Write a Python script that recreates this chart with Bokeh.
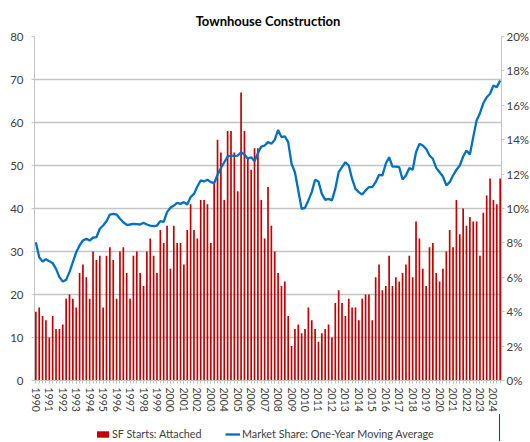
from bokeh.plotting import figure
from bokeh.layouts import column
from bokeh.models import (Range1d, LinearAxis, FixedTicker, PrintfTickFormatter,
                          Legend, LegendItem, ColumnDataSource)
from bokeh.embed import file_html
from bokeh.resources import INLINE

years = list(range(1990, 2025))

sf_starts_attached = [
    16, 17, 15, 14,  # 1990
    10, 15, 12, 12,  # 1991
    13, 19, 20, 19,  # 1992
    17, 25, 27, 24,  # 1993
    19, 30, 28, 29,  # 1994
    17, 29, 31, 28,  # 1995
    19, 30, 31, 25,  # 1996
    19, 29, 30, 25,  # 1997
    22, 30, 33, 29,  # 1998
    25, 35, 32, 36,  # 1999
    26, 36, 32, 32,  # 2000
    27, 35, 41, 35,  # 2001
    33, 42, 42, 41,  # 2002
    32, 46, 56, 53,  # 2003
    42, 58, 58, 53,  # 2004
    44, 67, 58, 52,  # 2005
    49, 54, 54, 42,  # 2006
    33, 45, 36, 30,  # 2007
    25, 22, 23, 15,  # 2008
    8, 12, 13, 11,   # 2009
    12, 17, 14, 12,  # 2010
    9, 11, 12, 13,   # 2011
    10, 18, 21, 18,  # 2012
    15, 19, 17, 17,  # 2013
    14, 19, 20, 20,  # 2014
    14, 24, 27, 21,  # 2015
    22, 29, 22, 24,  # 2016
    23, 25, 27, 29,  # 2017
    24, 37, 33, 26,  # 2018
    22, 31, 32, 25,  # 2019
    23, 26, 30, 35,  # 2020
    31, 42, 34, 40,  # 2021
    36, 38, 37, 37,  # 2022
    29, 39, 43, 47,  # 2023
    42, 41, 47,      # 2024
]

market_share_pct = [
    8.04, 7.17, 6.92, 7.05,
    6.94, 6.82, 6.49, 6.01,
    5.76, 5.85, 6.30, 6.88,
    7.46, 7.85, 8.14, 8.24,
    8.14, 8.30, 8.33, 8.82,
    9.01, 9.26, 9.65, 9.69,
    9.65, 9.40, 9.20, 9.05,
    9.07, 9.10, 9.09, 9.07,
    9.17, 9.07, 9.01, 8.97,
    9.01, 9.26, 9.22, 9.79,
    10.04, 10.17, 10.33, 10.27,
    10.37, 10.23, 10.66, 10.85,
    11.28, 11.63, 11.57, 11.67,
    11.53, 11.47, 11.96, 12.36,
    12.69, 13.02, 13.08, 13.06,
    13.08, 13.27, 13.14, 12.89,
    12.98, 12.75, 13.22, 13.60,
    13.66, 13.86, 13.76, 13.99,
    14.57, 14.15, 14.19, 13.86,
    12.60, 12.11, 11.05, 9.98,
    10.04, 10.47, 10.95, 11.67,
    11.57, 10.85, 10.50, 10.56,
    10.47, 11.14, 12.11, 12.40,
    12.69, 12.50, 11.72, 11.14,
    10.95, 10.81, 11.05, 11.24,
    11.24, 11.53, 11.96, 11.92,
    12.60, 12.98, 12.44, 12.44,
    12.40, 11.69, 11.92, 12.36,
    12.25, 13.27, 13.76, 13.66,
    13.47, 13.08, 12.89, 12.36,
    12.11, 11.86, 11.34, 11.53,
    11.92, 12.25, 12.50, 13.02,
    13.37, 13.14, 14.15, 15.12,
    15.54, 16.12, 16.47, 16.67,
    17.15, 17.05, 17.44,
]

series_labels = ["SF Starts: Attached", "Market Share: One-Year Moving Average"]
left_ticks = list(range(0, 81, 10))
right_ticks = list(range(0, 21, 2))

n = len(sf_starts_attached)
quarter_idx = list(range(n))
src = ColumnDataSource(dict(x=quarter_idx, starts=sf_starts_attached, share=market_share_pct))

FONT = "Lato"
TXT = "#404040"
GRID = "#c4c4c4"
RED = "#c00000"
BLUE = "#0070c0"

p = figure(frame_width=467, frame_height=344, output_backend="svg", toolbar_location=None,
           x_range=Range1d(-0.4, n - 0.6), y_range=Range1d(0, 80),
           min_border_left=34, min_border_right=4, min_border_top=36, min_border_bottom=0)
p.extra_y_ranges = {"share": Range1d(0, 20)}
p.outline_line_color = None
p.background_fill_color = "white"

p.title.text = "Townhouse Construction"
p.title.align = "center"
p.title.text_font = FONT
p.title.text_font_size = "13px"
p.title.text_font_style = "bold"
p.title.text_color = "black"
p.title.standoff = 16

bars = p.vbar(x="x", top="starts", width=0.5, source=src, fill_color=RED, line_color=None)
line = p.line(x="x", y="share", source=src, y_range_name="share", line_color=BLUE, line_width=2.3)

# left axis
ya = p.yaxis[0]
ya.ticker = FixedTicker(ticks=left_ticks)
ya.major_label_text_font = FONT
ya.major_label_text_font_size = "11.5px"
ya.major_label_text_color = TXT
ya.axis_line_color = GRID
ya.major_tick_line_color = GRID
ya.major_tick_out = 3
ya.major_tick_in = 0
ya.minor_tick_line_color = None
ya.major_label_standoff = 8

# right axis
ra = LinearAxis(y_range_name="share", ticker=FixedTicker(ticks=right_ticks),
                formatter=PrintfTickFormatter(format="%d%%"))
ra.major_label_text_font = FONT
ra.major_label_text_font_size = "11.5px"
ra.major_label_text_color = TXT
ra.axis_line_color = GRID
ra.major_tick_line_color = GRID
ra.major_tick_out = 3
ra.major_tick_in = 0
ra.minor_tick_line_color = None
ra.major_label_standoff = 2
p.add_layout(ra, "right")

# x axis
xa = p.xaxis[0]
year_ticks = [4 * k for k in range(len(years))]
xa.ticker = FixedTicker(ticks=year_ticks, minor_ticks=quarter_idx)
xa.major_label_overrides = {t: str(y) for t, y in zip(year_ticks, years)}
xa.major_label_orientation = "vertical"
xa.major_label_text_font = FONT
xa.major_label_text_font_size = "10.5px"
xa.major_label_text_color = TXT
xa.axis_line_color = GRID
xa.major_tick_line_color = GRID
xa.minor_tick_line_color = GRID
xa.major_tick_out = 3
xa.major_tick_in = 0
xa.minor_tick_out = 3
xa.minor_tick_in = 0
xa.major_label_standoff = 4

p.xgrid.visible = False
p.ygrid.ticker = FixedTicker(ticks=left_ticks)
p.ygrid.grid_line_color = GRID
p.ygrid.grid_line_width = 1.3

# legend strip below the chart (its view range holds no data, so only the keys show)
lf = figure(width=530, height=27, output_backend="svg", toolbar_location=None,
            x_range=Range1d(-20, -10), y_range=Range1d(0, 1), min_border=0)
lf.axis.visible = False
lf.grid.visible = False
lf.outline_line_color = None
key_bar = lf.vbar(x="x", top="starts", width=0.5, source=src, fill_color=RED, line_color=None)
key_line = lf.line(x="x", y="share", source=src, line_color=BLUE, line_width=2.3)


def make_legend(label, renderer, x):
    lg = Legend(items=[LegendItem(label=label, renderers=[renderer])],
                orientation="horizontal", location=(x, 1))
    lg.label_text_font = FONT
    lg.label_text_font_size = "10.8px"
    lg.label_text_color = TXT
    lg.glyph_width = 15
    lg.glyph_height = 8
    lg.padding = 0
    lg.margin = 0
    lg.label_standoff = 2
    lg.border_line_color = None
    lg.background_fill_alpha = 0
    return lg


lf.add_layout(make_legend(series_labels[0], key_bar, 61), "center")
lf.add_layout(make_legend(series_labels[1], key_line, 191), "center")

layout = column(p, lf, spacing=0)
open("out.html", "w").write(file_html(layout, INLINE))
